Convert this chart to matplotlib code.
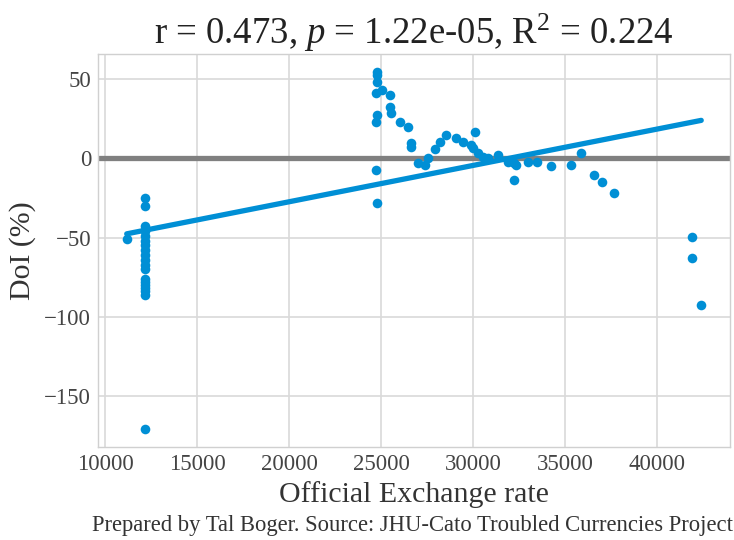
import matplotlib
matplotlib.use("Agg")
import matplotlib.pyplot as plt
import numpy as np

plt.style.use('seaborn-v0_8-whitegrid')
plt.rcParams['font.family'] = ['Liberation Serif', 'DejaVu Serif']
plt.rcParams['mathtext.fontset'] = 'custom'
plt.rcParams['mathtext.rm'] = 'Liberation Serif'
plt.rcParams['mathtext.it'] = 'Liberation Serif:italic'

# official rate vs. DoI (%)
rate_12k = [11180] + [12170] * 19
doi_12k = [-51, -25, -30, -43, -46, -49, -52, -55, -58, -61, -64, -67, -70,
           -76, -78, -80, -82, -84, -86, -171]

rate_mid = [24770, 24770, 24800, 24750, 24770, 24720, 24700, 24780,
            25040, 25490, 25490, 25520, 26030, 26480, 26620, 26620,
            27020, 27380, 27560, 27920, 28190, 28550, 29090, 29450,
            30080, 29900, 30000, 30260, 30530, 30800, 31340, 31880,
            32240, 32330, 32240]
doi_mid = [54.6, 52.5, 48.3, 41, 27.3, 23, -7.4, -28,
           43, 40, 32.5, 28.4, 23, 20, 9.5, 7.3,
           -3, -4, 0, 6, 10.5, 14.7, 12.6, 10.5,
           16.8, 8.4, 6.3, 3.2, 1, 0, 2, -2,
           -3, -4, -13.7]

rate_hi = [32960, 33500, 34220, 35300, 35840, 36560, 37010, 37640,
           41900, 41900, 42400]
doi_hi = [-2, -2, -4.9, -4.2, 3.2, -10.5, -14.7, -21.7,
          -49.4, -62.7, -92.5]

rate = np.array(rate_12k + rate_mid + rate_hi, dtype=float)
doi = np.array(doi_12k + doi_mid + doi_hi, dtype=float)

title = r"r = 0.473, $p$ = 1.22e-05, R$^2$ = 0.224"
source = "Prepared by Tal Boger. Source: JHU-Cato Troubled Currencies Project"

blue = '#008fd5'

fig = plt.figure(figsize=(7.34, 5.40), dpi=100)
ax = fig.add_axes([0.1335, 0.172, 0.861, 0.728])

ax.axhline(0, color='#808080', linewidth=3.8, zorder=1)
ax.scatter(rate, doi, s=48, color=blue, zorder=3, linewidths=0)

slope, intercept = np.polyfit(rate, doi, 1)
xs = np.array([rate.min(), rate.max()])
ax.plot(xs, slope * xs + intercept, color=blue, linewidth=3.8, zorder=2)

ax.set_xticks([10000, 15000, 20000, 25000, 30000, 35000, 40000])
ax.set_yticks([-150, -100, -50, 0, 50])
ax.tick_params(axis='both', labelsize=16.5, colors='#444444', pad=5)
ax.grid(True, color='#d9d9d9', linewidth=1.2)
for sp in ax.spines.values():
    sp.set_color('#d0d0d0')

ax.set_xlabel("Official Exchange rate", fontsize=21.5, color='#333333', labelpad=4)
ax.set_ylabel("DoI (%)", fontsize=21.5, color='#333333', labelpad=6)
ax.set_title(title, fontsize=26.5, color='#222222', pad=6)

fig.text(0.999, 0.008, source, ha='right', va='bottom', fontsize=16.3, color='#333333')

fig.savefig("out.png", dpi=100)
